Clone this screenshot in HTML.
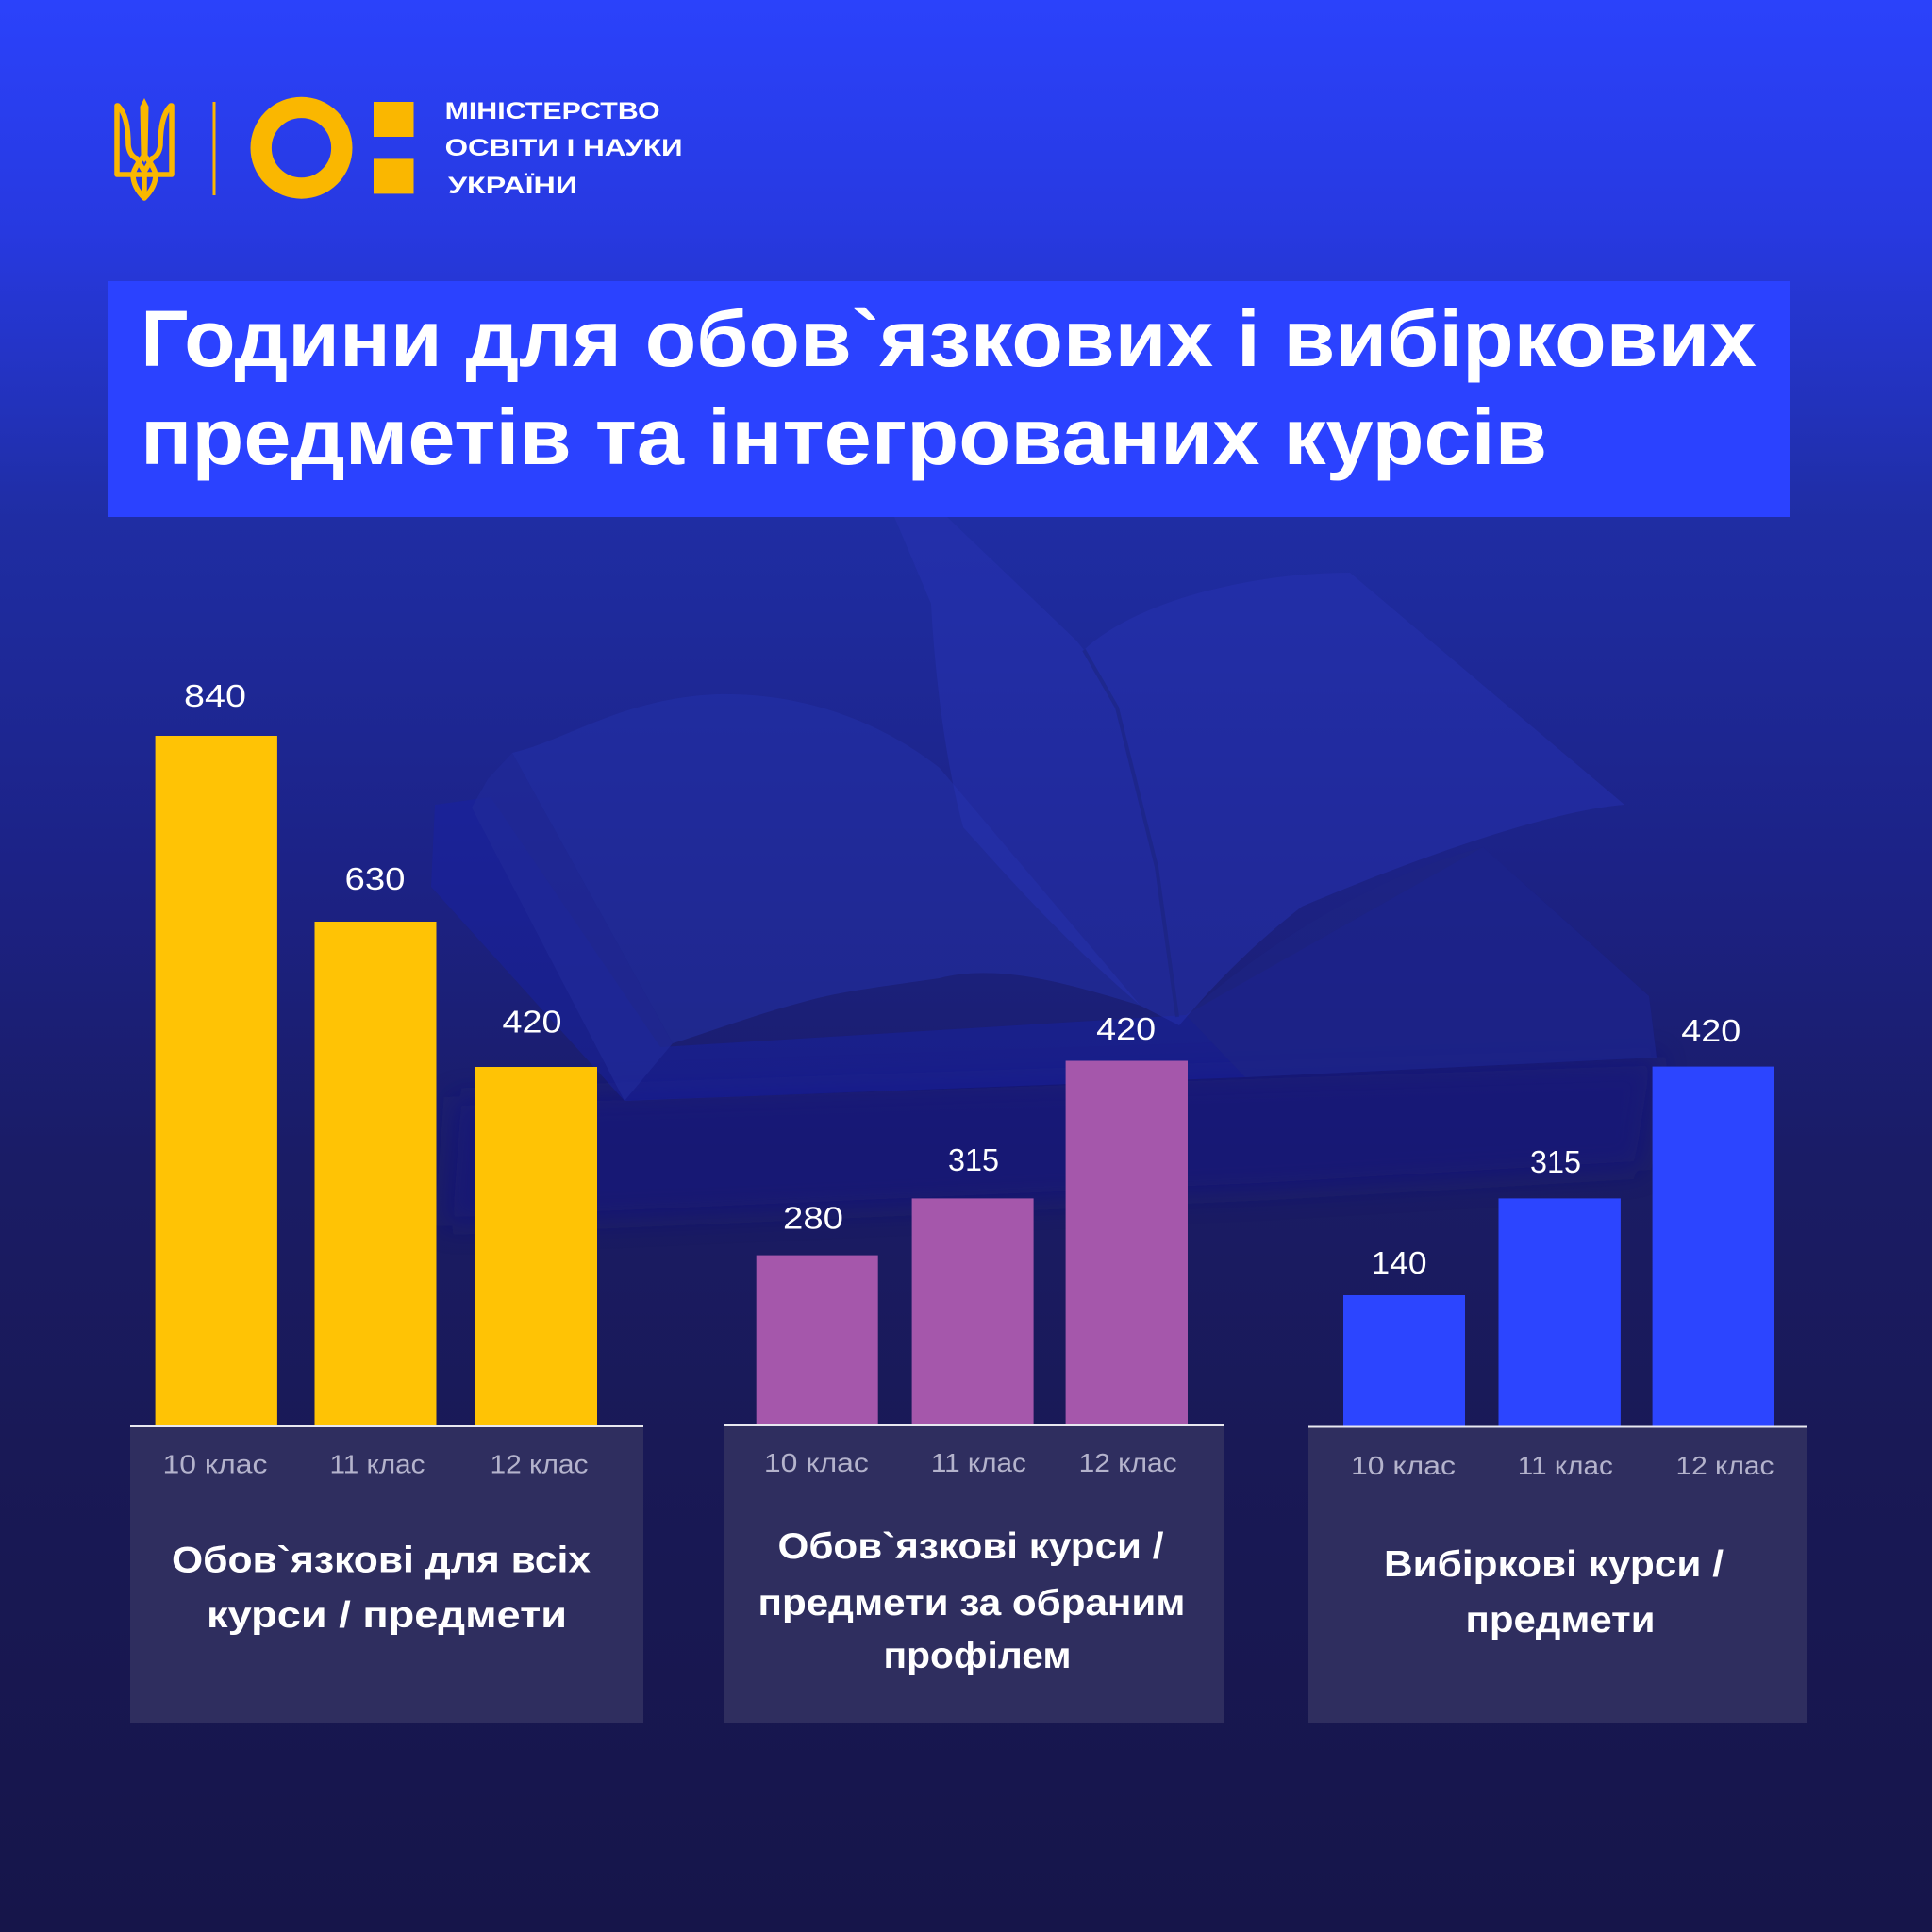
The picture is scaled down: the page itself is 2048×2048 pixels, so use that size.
<!DOCTYPE html>
<html><head><meta charset="utf-8"><style>
html,body{margin:0;padding:0;background:#16154A;}
svg{display:block;}
</style></head><body>
<svg xmlns="http://www.w3.org/2000/svg" width="2048" height="2048" viewBox="0 0 2048 2048">
<defs>
<linearGradient id="bg" x1="0" y1="0" x2="0" y2="1">
<stop offset="0" stop-color="#2B42FB"/>
<stop offset="0.12" stop-color="#2739E0"/>
<stop offset="0.27" stop-color="#1F2DA3"/>
<stop offset="0.45" stop-color="#1C2286"/>
<stop offset="0.6" stop-color="#1A1C66"/>
<stop offset="0.75" stop-color="#191956"/>
<stop offset="1" stop-color="#16154A"/>
</linearGradient>
<filter id="bl" x="-20%" y="-20%" width="140%" height="140%"><feGaussianBlur stdDeviation="14"/></filter>
</defs>
<rect width="2048" height="2048" fill="url(#bg)"/>

<!-- book illustration -->
<g>
<path d="M480,1163 L1760,1120 L1741,1240 L1342,1263 L640,1293 L470,1300 Z" fill="#14187E" opacity="0.6" filter="url(#bl)"/>
<path d="M461,853 L520,845 L700,1110 L1257,1076 L1572,898 L1748,1056 L1756,1121 L1320,1142 L662,1167 L457,940 Z" fill="#1822A6" opacity="0.45"/>
<path d="M517,826 L543,798 L713,1106 L662,1167 L500,856 Z" fill="#212A98" opacity="0.7"/>
<path d="M1257,1076 C1330,1010 1450,930 1572,898 L1748,1056 L1756,1121 L1320,1142 Z" fill="#1E2484" opacity="0.6"/>
<path d="M543,798 C600,785 660,740 760,736 C860,734 940,770 996,814 L1209,1066 C1140,1045 1060,1020 996,1037 C940,1045 900,1050 867,1058 C800,1075 750,1095 713,1106 Z" fill="#2632AE" opacity="0.45"/>
<path d="M948,548 L1004,548 L1141,679 L1149,689 C1200,640 1320,607 1431,607 L1722,853 C1640,860 1500,910 1380,961 C1330,1000 1290,1040 1250,1087 L1209,1066 C1120,990 1060,920 1021,877 C1000,800 990,700 987,640 Z" fill="#2834B4" opacity="0.45"/>
<path d="M1149,689 L1184,750 L1226,919 L1248,1078" fill="none" stroke="#1A2070" stroke-width="4" opacity="0.4"/>
</g>

<!-- logo -->
<g fill="none" stroke="#FAB700" stroke-width="5.5" stroke-linejoin="round" stroke-linecap="round" transform="translate(121,104)">
<path d="M3,8 L3,81 L61,81 L61,8"/>
<path d="M4,8 C12,16 15,30 15,50 C16,58 19,62 24,64"/>
<path d="M60,8 C52,16 49,30 49,50 C48,58 45,62 40,64"/>
<path d="M24,64 C27,70 30,74 32,78 C34,74 37,70 40,64"/>
<path d="M32,60 C28,66 22,72 20,81 M32,60 C36,66 42,72 44,81"/>
<path d="M20,81 C20,92 26,100 32,106 C38,100 44,92 44,81"/>
<path d="M32,81 L32,104"/>
</g>
<path d="M121,104 m32,0 l4.5,9 l-1,52 l-3.5,8 l-3.5,-8 l-1,-52 z" fill="#FAB700"/>
<rect x="225.5" y="108" width="3" height="99" fill="#FAB700"/>
<circle cx="319.5" cy="156.7" r="42.8" fill="none" stroke="#FAB700" stroke-width="22.4"/>
<rect x="396" y="108" width="42.5" height="37" fill="#FAB700"/>
<rect x="396" y="168.4" width="42.5" height="37" fill="#FAB700"/>
<g font-family="Liberation Sans, sans-serif" font-weight="bold" font-size="25" fill="#FFFFFF">
<text x="471.6" y="126" textLength="228" lengthAdjust="spacingAndGlyphs">МІНІСТЕРСТВО</text>
<text x="471.6" y="165" textLength="252" lengthAdjust="spacingAndGlyphs">ОСВІТИ І НАУКИ</text>
<text x="475" y="205" textLength="137" lengthAdjust="spacingAndGlyphs">УКРАЇНИ</text>
</g>

<!-- title -->
<rect x="114" y="298" width="1784" height="250" fill="#2B42FF"/>
<g font-family="Liberation Sans, sans-serif" font-weight="bold" font-size="84" fill="#FFFFFF">
<text x="149" y="388" textLength="1713" lengthAdjust="spacingAndGlyphs">Години для обов`язкових і вибіркових</text>
<text x="149" y="492" textLength="1491" lengthAdjust="spacingAndGlyphs">предметів та інтегрованих курсів</text>
</g>

<!-- label boxes -->
<rect x="138" y="1512" width="544" height="314" fill="#2F2E5F"/>
<rect x="767" y="1511" width="530" height="315" fill="#2F2E5F"/>
<rect x="1387" y="1512" width="528" height="314" fill="#2F2E5F"/>

<!-- bars group 1 -->
<rect x="164.6" y="780" width="129.3" height="732" fill="#FFC305"/>
<rect x="333.5" y="977" width="129" height="535" fill="#FFC305"/>
<rect x="504" y="1131" width="129" height="381" fill="#FFC305"/>
<!-- bars group 2 -->
<rect x="801.7" y="1330.6" width="129" height="180.4" fill="#A557AB"/>
<rect x="966.6" y="1270.4" width="129" height="240.6" fill="#A557AB"/>
<rect x="1129.6" y="1124.5" width="129.4" height="386.5" fill="#A557AB"/>
<!-- bars group 3 -->
<rect x="1424" y="1373" width="129" height="139" fill="#2C45FF"/>
<rect x="1588.5" y="1270.4" width="129.4" height="241.6" fill="#2C45FF"/>
<rect x="1751.6" y="1130.6" width="129.3" height="381.4" fill="#2C45FF"/>

<!-- baselines -->
<rect x="138" y="1511" width="544" height="2" fill="#E8E8F0"/>
<rect x="767" y="1510" width="530" height="2" fill="#E8E8F0"/>
<rect x="1387" y="1511.5" width="528" height="2" fill="#E8E8F0"/>

<!-- value labels -->
<g font-family="Liberation Sans, sans-serif" font-size="33" fill="#FFFFFF" text-anchor="middle">
<text x="228" y="749" textLength="66" lengthAdjust="spacingAndGlyphs">840</text>
<text x="397.5" y="943" textLength="64" lengthAdjust="spacingAndGlyphs">630</text>
<text x="564" y="1094.5" textLength="63" lengthAdjust="spacingAndGlyphs">420</text>
<text x="862" y="1302.5" textLength="64" lengthAdjust="spacingAndGlyphs">280</text>
<text x="1032" y="1241" textLength="54" lengthAdjust="spacingAndGlyphs">315</text>
<text x="1193.7" y="1102" textLength="63" lengthAdjust="spacingAndGlyphs">420</text>
<text x="1483" y="1350" textLength="59" lengthAdjust="spacingAndGlyphs">140</text>
<text x="1649" y="1243" textLength="54" lengthAdjust="spacingAndGlyphs">315</text>
<text x="1813.8" y="1104" textLength="63" lengthAdjust="spacingAndGlyphs">420</text>
</g>

<!-- class labels -->
<g font-family="Liberation Sans, sans-serif" font-size="28" fill="#B4B3CC" text-anchor="middle">
<text x="228" y="1561.7" textLength="111" lengthAdjust="spacingAndGlyphs">10 клас</text>
<text x="400" y="1561.7" textLength="101" lengthAdjust="spacingAndGlyphs">11 клас</text>
<text x="571.5" y="1561.7" textLength="104" lengthAdjust="spacingAndGlyphs">12 клас</text>
<text x="865.4" y="1560" textLength="111" lengthAdjust="spacingAndGlyphs">10 клас</text>
<text x="1037.4" y="1560" textLength="101" lengthAdjust="spacingAndGlyphs">11 клас</text>
<text x="1195.6" y="1560" textLength="104" lengthAdjust="spacingAndGlyphs">12 клас</text>
<text x="1487.5" y="1562.8" textLength="111" lengthAdjust="spacingAndGlyphs">10 клас</text>
<text x="1659.3" y="1562.8" textLength="101" lengthAdjust="spacingAndGlyphs">11 клас</text>
<text x="1828.5" y="1562.8" textLength="104" lengthAdjust="spacingAndGlyphs">12 клас</text>
</g>

<!-- category labels -->
<g font-family="Liberation Sans, sans-serif" font-weight="bold" font-size="39" fill="#FFFFFF" text-anchor="middle">
<text x="404" y="1666.7" textLength="444" lengthAdjust="spacingAndGlyphs">Обов`язкові для всіх</text>
<text x="410" y="1725" textLength="382" lengthAdjust="spacingAndGlyphs">курси / предмети</text>
<text x="1029" y="1652" textLength="409" lengthAdjust="spacingAndGlyphs">Обов`язкові курси /</text>
<text x="1030" y="1712" textLength="453" lengthAdjust="spacingAndGlyphs">предмети за обраним</text>
<text x="1036" y="1768" textLength="199" lengthAdjust="spacingAndGlyphs">профілем</text>
<text x="1647" y="1671" textLength="360" lengthAdjust="spacingAndGlyphs">Вибіркові курси /</text>
<text x="1654" y="1730" textLength="201" lengthAdjust="spacingAndGlyphs">предмети</text>
</g>
</svg>
</body></html>
